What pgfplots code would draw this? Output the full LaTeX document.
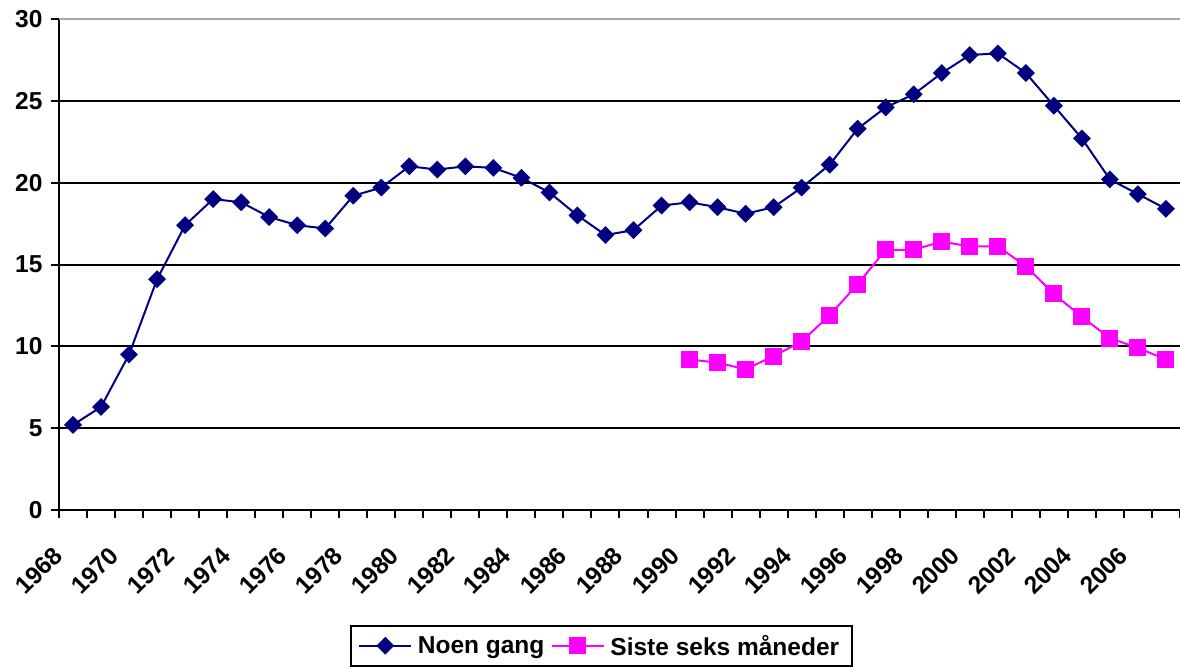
\documentclass[border=0pt]{standalone}
\usepackage{fontspec}
\setmainfont{Liberation Sans}
\usepackage{pgfplots}
\pgfplotsset{compat=1.18}
\definecolor{navyc}{HTML}{000080}
\definecolor{magc}{HTML}{FF00FF}
\begin{document}
\begin{tikzpicture}
\begin{axis}[
  at={(0bp,0bp)}, anchor=south west,
  scale only axis, width=1121bp, height=491bp,
  xmin=-0.5, xmax=39.5, ymin=0, ymax=30,
  axis x line*=bottom, axis y line*=left,
  axis line style={line width=2bp, black},
  tick align=outside, major tick length=8bp,
  tick style={line width=2bp, black},
  xtick={-0.5,0.5,...,39.5}, xticklabels={},
  extra x ticks={0,2,...,38},
  extra x tick labels={1968,1970,1972,1974,1976,1978,1980,1982,1984,1986,1988,1990,1992,1994,1996,1998,2000,2002,2004,2006},
  extra x tick style={major tick length=0pt, grid=none},
  xticklabel style={font=\fontsize{24.5bp}{24.5bp}\selectfont\bfseries, xshift=-21bp, yshift=-35bp, rotate=45, anchor=north east, inner sep=0pt},
  ytick={0,5,...,25},
  extra y ticks={30},
  extra y tick style={grid style={line width=2.4bp, gray!70}},
  ymajorgrids,
  grid style={line width=2bp, black},
  yticklabel style={font=\fontsize{24.5bp}{24.5bp}\selectfont\bfseries, xshift=-5bp},
  /pgf/number format/assume math mode=true,
  clip=false,
  legend style={at={(0.484,-0.234)}, anchor=north, draw=black, line width=2bp,
    font=\fontsize{24.5bp}{28bp}\selectfont\bfseries, legend columns=2,
    inner xsep=7bp, inner ysep=7bp,
    nodes={inner xsep=5.5bp},
    /tikz/every even column/.append style={column sep=1bp}},
  legend image code/.code={\draw[#1, line width=2bp, mark repeat=2, mark phase=2] plot coordinates {(0bp,0bp) (26bp,0bp) (52bp,0bp)};},
]
\addplot[navyc, line width=2bp, mark=square*, mark size=5.3bp,
  mark options={rotate=45, solid, fill=navyc}] coordinates {
(0,5.2) (1,6.3) (2,9.5) (3,14.1) (4,17.4) (5,19.0) (6,18.8) (7,17.9) (8,17.4) (9,17.2)
(10,19.2) (11,19.7) (12,21.0) (13,20.8) (14,21.0) (15,20.9) (16,20.3) (17,19.4) (18,18.0) (19,16.8)
(20,17.1) (21,18.6) (22,18.8) (23,18.5) (24,18.1) (25,18.5) (26,19.7) (27,21.1) (28,23.3) (29,24.6)
(30,25.4) (31,26.7) (32,27.8) (33,27.9) (34,26.7) (35,24.7) (36,22.7) (37,20.2) (38,19.3) (39,18.4)
};
\addlegendentry{Noen gang}
\addplot[magc, line width=2bp, mark=square*, mark size=7.5bp,
  mark options={solid, fill=magc}] coordinates {
(22,9.2) (23,9.0) (24,8.6) (25,9.4) (26,10.3) (27,11.9) (28,13.8) (29,15.9) (30,15.9) (31,16.4)
(32,16.1) (33,16.1) (34,14.9) (35,13.2) (36,11.8) (37,10.5) (38,9.9) (39,9.2)
};
\addlegendentry{Siste seks måneder}
\end{axis}
\pgfresetboundingbox
\path[use as bounding box] (-59bp,-157bp) rectangle (1121bp,510bp);
\end{tikzpicture}
\end{document}
